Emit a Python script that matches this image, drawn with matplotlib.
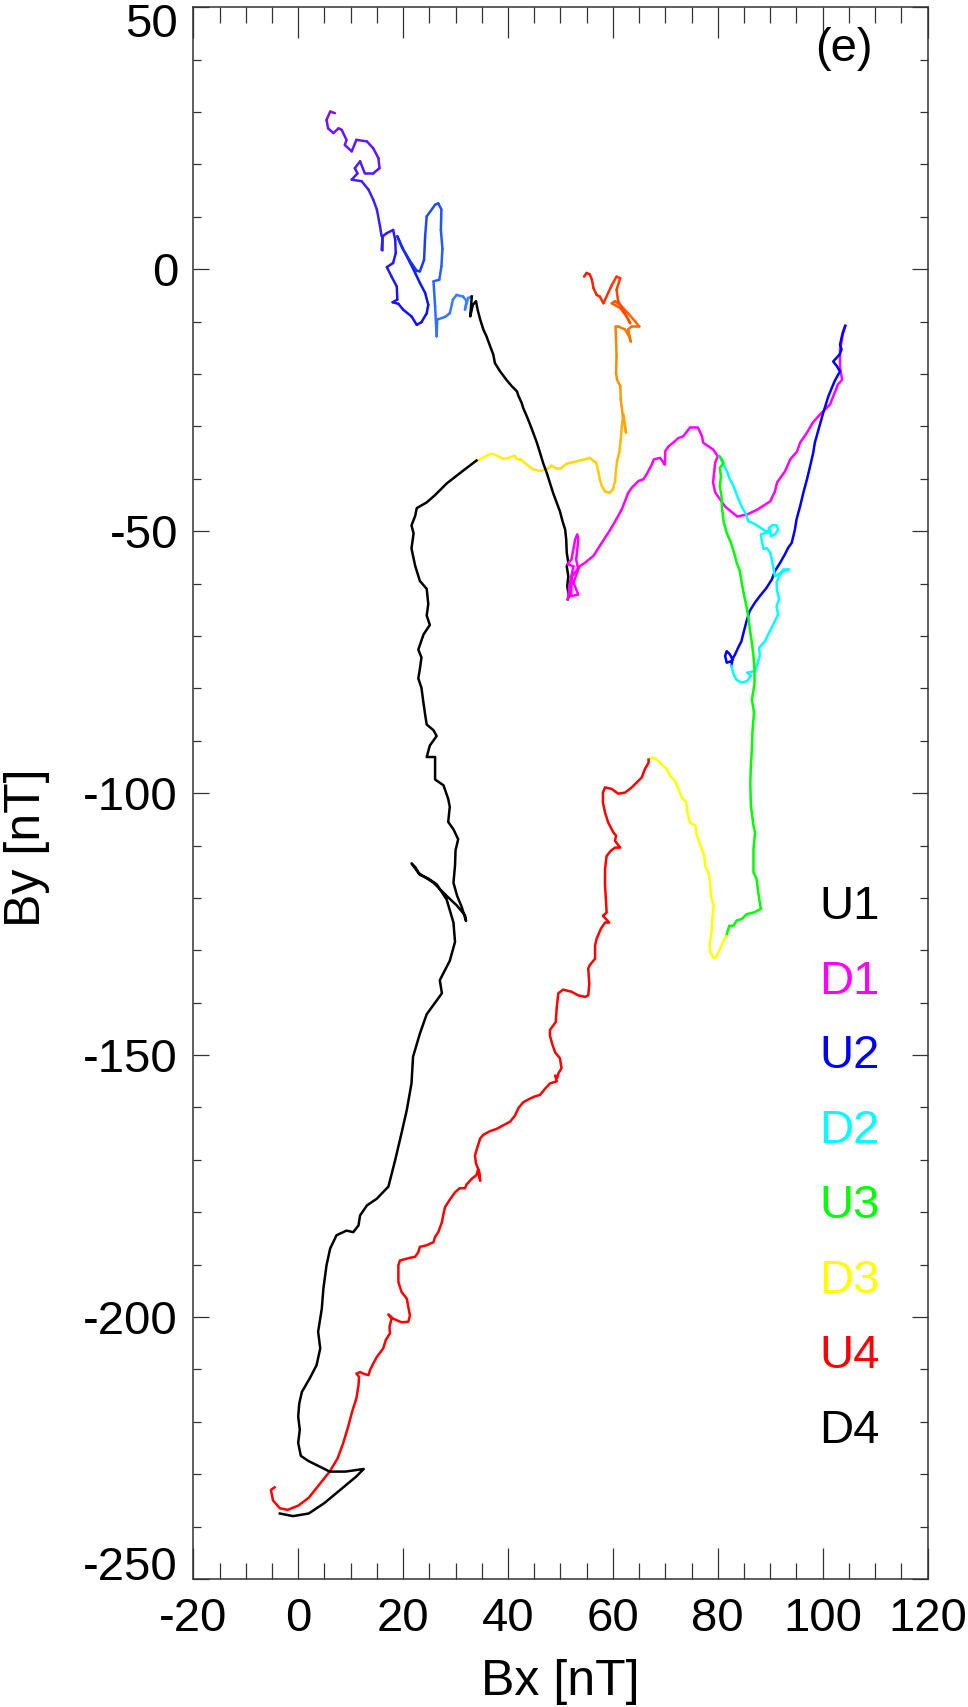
import numpy as np
import matplotlib
matplotlib.use("Agg")
import matplotlib.pyplot as plt
from matplotlib.collections import LineCollection
from matplotlib.colors import LinearSegmentedColormap
from matplotlib.ticker import MultipleLocator
import matplotlib.transforms as mtransforms

plt.rcParams['font.family'] = ['Liberation Sans', 'DejaVu Sans']
plt.rcParams['axes.unicode_minus'] = False

# ---- hodogram data (Bx, By in nT) ----
# time-coloured track before U1
bx_pre = [7.0, 6.1, 5.4, 5.7, 6.7, 7.7, 8.3, 9.2, 8.9, 10.2, 11.1, 13.1, 14.3, 15.3, 15.5, 14.3, 12.7, 11.8, 10.8,
          11.3, 10.2, 12.1, 13.4, 14.3, 15.0, 15.6, 15.9, 15.9, 16.1, 16.9, 18.1, 18.5, 18.6, 18.1, 16.9, 17.8,
          18.8, 18.9, 18.0, 19.1, 20.0, 21.6, 22.6, 23.5, 24.5, 24.8, 24.2, 23.2, 22.3, 21.2, 19.8, 18.9, 19.9,
          21.3, 22.6, 23.2, 24.0, 24.2, 24.5, 26.1, 26.7, 27.3, 27.2, 27.5, 27.3, 26.9, 25.8, 26.1, 26.4, 26.5,
          28.0, 28.9, 29.5, 30.2, 31.4, 32.1, 31.8, 32.4, 33.1]
by_pre = [29.8, 30.1, 28.5, 26.9, 26.0, 26.9, 26.6, 24.7, 23.7, 22.5, 24.7, 24.4, 23.1, 21.2, 19.3, 18.3, 18.3, 20.6,
          19.3, 18.3, 17.1, 16.8, 15.2, 13.3, 11.4, 8.2, 6.3, 3.7, 6.3, 6.9, 7.5, 5.6, 3.1, 1.2, 0.4, -1.4, -3.3,
          -5.8, -6.3, -6.6, -7.7, -9.0, -10.6, -10.1, -8.4, -6.8, -4.5, -2.6, -0.7, 1.5, 4.2, 6.3, 4.0, 1.6, -0.3,
          -0.4, 1.8, 6.3, 10.1, 12.3, 12.6, 11.4, 7.5, 3.9, 0.5, -2.0, -2.3, -7.1, -12.8, -9.6, -9.1, -8.4, -5.8,
          -4.9, -5.2, -6.0, -7.7, -5.5, -5.2]

bx_u1 = [33.1, 32.8, 33.3, 33.9, 34.2, 34.7, 35.3, 35.9, 36.6, 37.2, 37.5, 38.5, 39.7, 40.7, 41.7, 42.0, 42.6, 42.9,
         43.6, 44.2, 44.8, 45.5, 46.1, 46.7, 47.4, 48.0, 48.6, 49.3, 49.9, 50.4, 50.9, 51.1, 51.2, 51.5, 51.2,
         51.5, 51.3, 51.6, 51.4]
by_u1 = [-5.2, -9.0, -6.8, -6.1, -7.7, -9.6, -11.5, -12.8, -14.7, -16.3, -17.9, -19.5, -21.1, -22.3, -23.3, -24.2,
         -25.5, -26.5, -28.1, -29.6, -31.2, -33.1, -35.0, -37.0, -38.9, -40.8, -42.7, -44.6, -46.2, -48.1, -49.7,
         -51.6, -54.1, -56.0, -56.7, -58.6, -60.5, -62.4, -63.0]

bx_d1 = [51.4, 51.8, 52.5, 51.3, 52.1, 52.8, 53.2, 53.4, 53.0, 53.4, 52.5, 53.4, 52.0, 52.2, 53.7, 54.7, 56.3, 57.5,
         59.5, 60.1, 61.0, 61.7, 62.3, 62.9, 63.6, 64.9, 65.8, 66.4, 67.4, 67.8, 69.0, 69.6, 69.9, 70.0, 70.6,
         71.5, 72.5, 73.4, 74.7, 76.2, 77.0, 77.2, 79.1, 80.0, 79.5, 79.1, 79.5, 81.4, 83.7, 85.6, 87.5, 90.0,
         90.9, 91.3, 92.8, 93.8, 95.1, 95.7, 97.0, 98.1, 99.5, 101.4, 102.0, 102.9, 103.7, 103.3, 103.3, 103.9,
         104.3]
by_d1 = [-63.0, -59.8, -56.7, -56.3, -55.4, -51.6, -50.6, -51.6, -55.4, -57.3, -59.8, -62.1, -62.4, -58.6, -56.7,
         -56.0, -54.7, -52.8, -49.7, -48.7, -47.1, -45.8, -44.3, -42.7, -41.7, -40.4, -40.1, -39.2, -37.3, -36.3,
         -36.0, -36.9, -37.3, -34.7, -33.8, -33.1, -32.2, -31.9, -30.2, -30.2, -31.9, -33.1, -34.4, -35.7, -36.9,
         -40.7, -42.6, -45.3, -47.2, -46.8, -45.9, -44.3, -42.4, -40.7, -38.6, -36.3, -34.8, -33.1, -31.2, -29.3,
         -27.7, -25.8, -24.3, -22.0, -21.1, -18.6, -15.3, -12.1, -10.8]

bx_u2 = [104.3, 103.8, 103.3, 103.6, 103.2, 102.0, 102.7, 103.3, 102.4, 102.0, 101.1, 100.1, 99.2, 98.5, 98.2, 97.6,
         97.0, 96.3, 95.7, 95.0, 94.7, 94.1, 93.4, 92.8, 91.9, 90.9, 90.3, 89.3, 88.0, 87.1, 86.1, 85.5, 84.9,
         84.5, 83.9, 83.3, 82.6, 81.7, 81.4, 81.7, 82.3, 82.8, 82.6]
by_u2 = [-10.8, -12.2, -14.4, -15.3, -16.3, -17.6, -18.5, -19.5, -21.1, -22.0, -24.2, -27.4, -30.6, -33.1, -35.0,
         -37.6, -40.1, -42.7, -45.2, -47.8, -49.7, -52.2, -53.2, -54.4, -56.0, -57.6, -59.2, -60.8, -62.4, -63.6,
         -65.2, -67.1, -69.4, -71.0, -72.2, -73.5, -74.8, -75.1, -73.8, -72.9, -73.5, -74.5, -75.7]

bx_d2 = [82.6, 83.0, 83.5, 84.5, 85.6, 86.3, 85.6, 87.1, 87.5, 88.0, 87.9, 89.0, 89.6, 90.3, 90.9, 91.5, 91.2, 91.7,
         91.3, 91.2, 91.7, 92.5, 93.6, 92.2, 90.9, 90.6, 90.3, 90.0, 89.3, 88.7, 88.4, 88.2, 89.2, 90.0, 90.1,
         90.9, 91.5, 91.2, 90.5, 89.8, 89.6, 88.4, 87.5, 86.6, 85.8, 85.4, 84.5, 83.7, 83.0, 82.3, 81.7, 81.1,
         80.3]
by_d2 = [-75.7, -77.3, -78.3, -78.9, -78.6, -77.6, -77.0, -76.7, -75.4, -73.8, -72.2, -71.0, -69.7, -68.4, -67.1,
         -65.9, -64.3, -63.0, -61.4, -59.8, -58.6, -57.3, -57.3, -57.8, -58.6, -57.0, -55.4, -54.1, -53.2, -53.4,
         -51.9, -50.6, -50.3, -49.7, -50.9, -50.6, -49.7, -48.9, -48.8, -49.3, -50.3, -49.5, -48.9, -48.4, -48.1,
         -46.8, -45.2, -43.3, -41.4, -40.1, -38.5, -37.3, -35.7]

bx_u3 = [80.3, 80.7, 81.1, 80.4, 80.6, 80.4, 80.7, 80.8, 81.1, 81.7, 82.5, 83.1, 83.6, 84.2, 84.5, 84.9, 85.4, 85.8,
         86.1, 86.5, 86.8, 87.0, 87.0, 86.5, 86.9, 86.6, 86.5, 86.3, 86.2, 86.3, 86.8, 87.1, 86.8, 86.8, 87.4,
         87.7, 88.2, 86.8, 85.5, 84.6, 83.6, 83.0, 82.2, 81.8, 81.6]
by_u3 = [-35.7, -36.2, -37.0, -37.9, -39.5, -41.4, -43.3, -45.5, -48.1, -50.3, -52.2, -54.1, -56.0, -57.6, -59.5,
         -61.7, -64.0, -66.2, -68.7, -71.3, -73.8, -76.4, -79.2, -82.1, -84.6, -88.4, -91.6, -94.8, -98.0, -102.4,
         -106.2, -107.5, -110.7, -115.1, -116.4, -118.9, -122.1, -122.8, -123.1, -124.0, -124.3, -125.3, -125.3,
         -126.6, -127.3]

bx_d3 = [81.6, 81.1, 80.7, 80.1, 79.7, 79.2, 78.6, 78.4, 78.8, 79.0, 79.2, 78.7, 78.5, 78.2, 77.6, 77.4, 76.7, 76.0,
         75.7, 74.7, 74.2, 74.0, 73.1, 72.5, 71.8, 70.9, 70.3, 69.3, 68.3, 67.4, 66.8]
by_d3 = [-127.3, -128.2, -129.1, -130.4, -131.3, -131.5, -130.4, -129.1, -126.6, -123.4, -121.5, -119.6, -116.7,
         -115.1, -113.9, -112.0, -110.0, -108.1, -106.2, -105.6, -103.7, -101.8, -100.8, -99.2, -97.6, -96.7,
         -95.4, -94.5, -93.5, -93.2, -93.6]

bx_u4 = [66.8, 66.8, 66.1, 65.5, 64.5, 63.6, 62.3, 61.0, 59.8, 58.5, 58.1, 58.1, 58.5, 59.1, 60.1, 60.6, 60.4, 61.4,
         60.4, 59.6, 58.8, 58.5, 58.5, 58.7, 58.8, 58.1, 59.3, 58.5, 57.7, 56.9, 56.6, 56.6, 55.6, 55.3, 55.5,
         55.3, 54.7, 53.4, 52.1, 50.5, 49.6, 49.3, 49.1, 48.0, 48.0, 48.5, 49.0, 49.9, 50.2, 49.6, 49.4, 49.0,
         49.3, 48.0, 47.0, 46.1, 45.1, 44.2, 42.9, 42.0, 41.3, 40.4, 39.1, 37.8, 36.6, 35.3, 34.7, 34.1, 33.7,
         33.9, 34.5, 34.7, 34.3, 34.0, 33.1, 32.1, 31.8, 30.8, 29.9, 28.9, 28.0, 27.7, 27.4, 26.7, 26.1, 25.8,
         24.5, 23.2, 22.9, 22.3, 21.3, 19.4, 19.1, 19.1, 19.7, 20.7, 21.3, 21.0, 19.7, 18.1, 17.2, 17.8, 17.4,
         17.5, 16.7, 16.2, 15.6, 15.0, 14.3, 13.7, 13.4, 12.4, 11.8, 11.1, 11.6, 11.5, 11.1, 10.3, 9.5, 8.6,
         7.5, 6.0, 4.0, 2.0, 0.0, -2.0, -3.5, -4.8, -5.2, -4.5]
by_u4 = [-93.6, -94.2, -95.4, -97.0, -98.0, -98.9, -99.9, -100.1, -99.2, -98.9, -99.9, -101.8, -103.7, -105.6,
         -107.5, -108.1, -109.1, -110.4, -110.4, -111.0, -112.0, -114.5, -117.7, -120.8, -122.8, -123.4, -124.7,
         -124.7, -125.9, -127.8, -129.1, -131.6, -132.8, -133.5, -136.4, -138.6, -138.9, -138.6, -137.9, -137.5,
         -138.2, -140.8, -143.7, -145.2, -146.3, -148.1, -149.5, -150.6, -152.5, -153.5, -154.3, -153.9, -155.0,
         -155.4, -156.5, -157.6, -157.9, -158.3, -159.0, -160.1, -161.6, -162.7, -163.4, -164.1, -164.5, -165.2,
         -165.9, -167.8, -169.2, -170.7, -172.2, -174.0, -171.8, -172.9, -173.6, -174.7, -175.4, -175.4, -176.2,
         -177.6, -179.0, -180.3, -181.9, -183.8, -184.7, -185.7, -186.3, -186.6, -187.6, -188.5, -188.7, -189.2,
         -190.1, -193.3, -195.2, -196.5, -199.7, -200.9, -201.0, -200.3, -199.5, -200.3, -201.9, -203.1, -204.4,
         -206.0, -206.8, -207.6, -208.9, -210.1, -211.1, -210.8, -210.5, -210.8, -211.4, -213.0, -215.5, -218.0,
         -221.0, -224.0, -227.0, -229.5, -232.0, -234.5, -236.0, -236.8, -236.5, -235.0, -233.0, -232.5]

bx_d4 = [-3.5, -1.0, 2.0, 5.0, 8.0, 11.0, 12.5, 9.0, 6.0, 4.0, 2.0, 0.5, 0.0, 0.3, 0.0, 0.2, 0.7, 2.2, 3.5, 4.2, 3.8,
         4.5, 4.8, 5.4, 6.1, 7.3, 9.2, 10.5, 11.5, 11.8, 13.1, 15.0, 17.2, 18.5, 19.7, 20.7, 21.6, 21.9, 23.2,
         24.5, 27.4, 27.0, 28.9, 29.9, 29.6, 28.3, 26.4, 24.8, 23.2, 22.3, 21.6, 22.9, 25.8, 28.3, 30.2, 31.8,
         32.0, 31.2, 30.3, 29.6, 29.9, 30.0, 30.5, 29.6, 28.6, 28.9, 28.6, 27.7, 26.1, 26.1, 24.5, 25.1, 26.4,
         25.8, 24.5, 24.2, 23.9, 23.5, 22.9, 23.2, 23.5, 22.9, 23.9, 25.1, 24.5, 24.8, 24.5, 23.2, 22.3, 21.6,
         22.0, 21.6, 22.3, 22.6, 24.5, 26.1, 28.3, 31.5, 34.0]
by_d4 = [-237.5, -238.0, -237.5, -235.5, -233.0, -230.5, -229.0, -229.5, -229.5, -228.5, -227.5, -226.5, -224.0,
         -221.5, -219.0, -216.5, -214.3, -211.7, -209.2, -206.0, -202.8, -198.4, -194.6, -190.1, -186.9, -184.4,
         -183.5, -183.8, -182.5, -180.6, -178.7, -177.4, -175.1, -170.0, -164.9, -160.5, -155.4, -150.3, -145.9,
         -142.2, -138.2, -135.7, -132.0, -128.4, -124.7, -120.3, -117.4, -116.3, -115.6, -114.1, -113.4, -115.2,
         -117.1, -119.6, -121.4, -123.3, -124.4, -121.8, -119.6, -117.1, -113.8, -110.9, -108.8, -106.9, -105.5,
         -102.6, -101.1, -98.5, -97.4, -93.1, -93.1, -90.9, -89.1, -88.0, -86.9, -85.0, -82.9, -79.9, -78.1,
         -76.3, -74.1, -72.6, -69.7, -67.9, -66.1, -63.9, -61.0, -59.5, -56.6, -53.3, -50.4, -48.9, -47.1, -45.6,
         -44.5, -43.1, -40.9, -38.4, -36.5]

# time-coloured track after D4
bx_post = [34.0, 35.9, 36.9, 38.2, 39.1, 40.1, 40.7, 41.3, 41.7, 42.3, 43.6, 44.8, 46.1, 47.4, 48.3, 49.0, 50.2,
           51.2, 52.5, 53.7, 55.0, 55.6, 56.3, 56.8, 57.2, 57.5, 57.9, 58.5, 59.3, 60.0, 60.4, 60.6, 60.8, 61.2,
           61.5, 61.7, 62.0, 62.5, 61.9, 61.5, 61.4, 60.8, 60.6, 60.7, 60.6, 60.5, 61.0, 62.3, 63.1, 63.4, 62.9,
           63.6, 65.0, 64.2, 62.9, 61.7, 60.4, 59.8, 61.4, 62.6, 63.3, 62.3, 61.0, 60.7, 61.4, 60.7, 59.8, 59.1,
           58.2, 57.5, 56.9, 56.3, 56.0, 55.6, 55.0, 54.5]
by_post = [-36.6, -35.6, -35.2, -35.7, -36.2, -36.0, -35.8, -35.6, -36.2, -36.2, -37.3, -38.2, -38.5, -38.2, -37.5,
           -37.9, -37.9, -37.1, -36.8, -36.5, -36.2, -36.0, -36.6, -36.9, -38.5, -40.1, -41.4, -42.4, -42.7, -42.0,
           -40.5, -38.2, -36.6, -35.0, -32.5, -30.0, -27.7, -31.2, -28.1, -24.9, -22.3, -21.1, -19.8, -16.6, -13.4,
           -10.9, -10.9, -11.5, -12.8, -13.8, -11.5, -10.9, -10.9, -9.9, -8.4, -7.1, -6.1, -6.5, -7.4, -9.0, -10.3,
           -8.4, -6.1, -3.9, -1.7, -1.4, -3.0, -4.5, -6.5, -5.2, -4.9, -3.6, -2.0, -1.0, -0.7, -1.4]

labels = ['U1', 'D1', 'U2', 'D2', 'U3', 'D3', 'U4', 'D4']
colors = ['black', '#ff00ff', '#0000ff', '#00ffff', '#00ff00', '#ffff00', '#ff0000', 'black']
segments = [(bx_u1, by_u1), (bx_d1, by_d1), (bx_u2, by_u2), (bx_d2, by_d2),
            (bx_u3, by_u3), (bx_d3, by_d3), (bx_u4, by_u4), (bx_d4, by_d4)]

cmap_pre = LinearSegmentedColormap.from_list('pre', ['#7a10ff', '#3c20ff', '#0a10f0', '#1e55ff', '#3a85ff'])
cmap_post = LinearSegmentedColormap.from_list('post', ['#ffff00', '#ffd400', '#ffb000', '#ff8000', '#ff5000', '#ff1a00'])

LW = 1.8


def rainbow_line(ax, x, y, cmap):
    x = np.asarray(x)
    y = np.asarray(y)
    pts = np.column_stack([x, y]).reshape(-1, 1, 2)
    segs = np.concatenate([pts[:-1], pts[1:]], axis=1)
    d = np.hypot(np.diff(x), np.diff(y))
    s = np.concatenate([[0], np.cumsum(d)])
    t = 0.5 * (s[:-1] + s[1:]) / s[-1]
    lc = LineCollection(segs, colors=cmap(t), linewidths=LW, capstyle='round', joinstyle='round')
    ax.add_collection(lc)


fig = plt.figure(figsize=(9.68, 17.07), dpi=100)
ax = fig.add_axes([0.19969, 0.07499, 0.75857, 0.92073])

rainbow_line(ax, bx_pre, by_pre, cmap_pre)
rainbow_line(ax, bx_post, by_post, cmap_post)
for (sx, sy), c in zip(segments, colors):
    ax.plot(sx, sy, color=c, lw=LW, solid_joinstyle='round')

ax.set_xlim(-20, 120)
ax.set_ylim(-250, 50)

ax.xaxis.set_major_locator(MultipleLocator(20))
ax.xaxis.set_minor_locator(MultipleLocator(5))
ax.yaxis.set_major_locator(MultipleLocator(50))
ax.yaxis.set_minor_locator(MultipleLocator(10))

tick_col = '#333333'
ax.tick_params(axis='x', which='major', direction='in', length=22.3, width=0.9, color=tick_col,
               top=True, labelsize=34, pad=13)
ax.tick_params(axis='x', which='minor', direction='in', length=11.3, width=0.9, color=tick_col, top=True)
ax.tick_params(axis='y', which='major', direction='in', length=11.5, width=0.9, color=tick_col,
               right=True, labelsize=34, pad=11)
ax.tick_params(axis='y', which='minor', direction='in', length=5.8, width=0.9, color=tick_col, right=True)
for sp in ax.spines.values():
    sp.set_color(tick_col)
    sp.set_linewidth(1.1)

fig.canvas.draw()
# end labels on the y axis sit inside the frame
for tk in ax.yaxis.get_major_ticks():
    v = tk.get_loc()
    if abs(v - 50) < 1e-6:
        tk.label1.set_transform(tk.label1.get_transform() +
                                mtransforms.ScaledTranslation(0, -0.13, fig.dpi_scale_trans))
    elif abs(v + 250) < 1e-6:
        tk.label1.set_transform(tk.label1.get_transform() +
                                mtransforms.ScaledTranslation(0, 0.16, fig.dpi_scale_trans))

fig.text(560 / 968, 1 - 1682 / 1707, 'Bx [nT]', fontsize=36, ha='center', va='center')
fig.text(27 / 968, 1 - 848 / 1707, 'By [nT]', fontsize=36, ha='center', va='center', rotation=90)
fig.text(844 / 968, 1 - 49 / 1707, '(e)', fontsize=34, ha='center', va='center')

label_y = [907, 982, 1056, 1131, 1206, 1281, 1356, 1431]
for lab, c, yy in zip(labels, colors, label_y):
    fig.text(819 / 968, 1 - yy / 1707, lab, fontsize=34, color=c, ha='left', va='center')

fig.savefig('out.png', dpi=100)
